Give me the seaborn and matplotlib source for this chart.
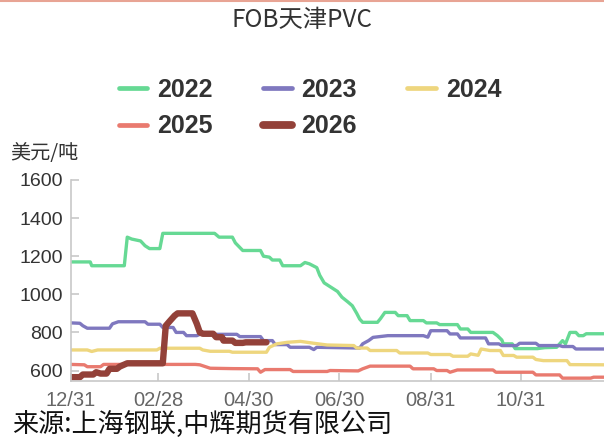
import pandas as pd
import seaborn as sns
import matplotlib.pyplot as plt
from matplotlib.lines import Line2D

# days since 12/31 of the previous year, and price (USD/t)
days_2022 = [0, 13, 14, 36, 38, 41, 47, 50, 53, 60, 62, 97, 100, 109, 111, 116, 128, 130, 134, 136,
             141, 143, 155, 158, 161, 166, 168, 171, 175, 180, 183, 187, 190, 193, 195, 197, 207,
             209, 212, 219, 221, 227, 229, 238, 240, 247, 249, 261, 263, 268, 270, 285, 288, 291,
             292, 298, 300, 315, 320, 328, 332, 334, 336, 337, 341, 343, 346, 348, 360]
fob_2022 = [1170, 1170, 1150, 1150, 1300, 1290, 1280, 1255, 1240, 1240, 1320, 1320, 1300, 1300, 1270,
            1230, 1230, 1200, 1195, 1180, 1180, 1150, 1150, 1167, 1160, 1140, 1100, 1060, 1040, 1015,
            985, 960, 940, 900, 870, 853, 853, 872, 905, 905, 888, 888, 862, 862, 850, 850, 841, 841,
            818, 818, 800, 800, 783, 760, 740, 740, 715, 715, 720, 722, 757, 740, 780, 800, 800, 783,
            783, 793, 793]

days_2023 = [0, 6, 8, 11, 26, 28, 32, 50, 52, 60, 62, 69, 71, 76, 78, 85, 87, 112, 114, 128, 130, 136,
             138, 146, 148, 161, 164, 166, 195, 197, 201, 204, 214, 238, 241, 243, 254, 256, 261, 263,
             280, 282, 289, 291, 301, 303, 314, 316, 330, 332, 339, 341, 360]
fob_2023 = [850, 848, 835, 822, 822, 845, 856, 856, 843, 843, 826, 826, 800, 800, 783, 783, 790, 790,
            778, 778, 757, 757, 736, 736, 722, 722, 710, 722, 718, 740, 757, 774, 783, 783, 775, 809,
            809, 792, 792, 771, 771, 740, 740, 731, 731, 743, 743, 731, 731, 726, 726, 713, 713]

days_2024 = [0, 11, 14, 18, 58, 60, 87, 89, 94, 107, 109, 132, 134, 139, 146, 155, 164, 173, 191, 193,
             200, 202, 220, 222, 241, 243, 256, 258, 268, 270, 275, 277, 283, 290, 292, 299, 301, 312,
             314, 319, 335, 337, 360]
fob_2024 = [708, 708, 700, 708, 708, 717, 717, 708, 701, 701, 696, 696, 722, 740, 748, 753, 743, 734,
            731, 718, 718, 705, 705, 692, 692, 684, 684, 675, 675, 687, 680, 713, 705, 705, 679, 679,
            670, 670, 658, 652, 652, 631, 630]

days_2025 = [0, 9, 11, 20, 22, 84, 87, 94, 109, 126, 128, 131, 148, 150, 173, 175, 194, 197, 202, 229,
             231, 245, 247, 254, 256, 261, 285, 287, 312, 314, 330, 332, 351, 353, 360]
fob_2025 = [632, 630, 620, 620, 632, 632, 630, 612, 610, 609, 591, 605, 605, 595, 595, 600, 598, 609,
            623, 623, 609, 609, 600, 600, 591, 603, 603, 591, 591, 577, 577, 560, 560, 565, 565]

days_2026 = [0, 6, 8, 15, 17, 20, 24, 26, 31, 33, 38, 62, 64, 67, 70, 72, 82, 85, 87, 89, 96, 98, 102,
             103, 109, 111, 116, 118, 132]
fob_2026 = [565, 565, 579, 579, 591, 584, 584, 609, 609, 621, 638, 638, 835, 862, 888, 900, 900, 845,
            800, 793, 793, 775, 775, 757, 757, 745, 745, 748, 748]

tick_days = [0, 59, 120, 181, 243, 304]
tick_labels = ['12/31', '02/28', '04/30', '06/30', '08/31', '10/31']
y_ticks = [600, 800, 1000, 1200, 1400, 1600]

series = {
    '2022': (days_2022, fob_2022, '#66d994', 2.4),
    '2023': (days_2023, fob_2023, '#7f78bf', 2.4),
    '2024': (days_2024, fob_2024, '#eed67e', 2.4),
    '2025': (days_2025, fob_2025, '#e97a6f', 2.4),
    '2026': (days_2026, fob_2026, '#934139', 4.6),
}

sns.set_theme(style='white')
plt.rcParams['font.family'] = ['Liberation Sans', 'Noto Sans CJK SC', 'DejaVu Sans']

fig = plt.figure(figsize=(6.04, 4.37), dpi=100)
ax = fig.add_axes([71 / 604, 1 - 381 / 437, 1 - 71 / 604, 201 / 437])

handles = {}
for year, (d, v, color, lw) in series.items():
    df = pd.DataFrame({'day': d, 'fob': v})
    sns.lineplot(data=df, x='day', y='fob', color=color, linewidth=lw, ax=ax,
                 estimator=None, sort=False, label=year)
    handles[year] = Line2D([], [], color=color, linewidth=lw + 1.0)

ax.set_xlim(0, 360)
ax.set_ylim(545, 1600)
ax.set_xticks(tick_days)
ax.set_xticklabels(tick_labels)
ax.set_yticks(y_ticks)
ax.set_xlabel('')
ax.set_ylabel('')

for side in ['top', 'right']:
    ax.spines[side].set_visible(False)
for side in ['left', 'bottom']:
    ax.spines[side].set_color('#c8c8c8')
    ax.spines[side].set_linewidth(1.2)

ax.tick_params(axis='both', direction='in', length=6, width=1.2, color='#c8c8c8')
ax.tick_params(axis='y', labelsize=14, labelcolor='#333333', pad=6, left=True)
ax.tick_params(axis='x', labelsize=14.5, labelcolor='#666666', pad=7, bottom=True)

# legend filled column by column, so order gives rows 2022/2023/2024 then 2025/2026
ax.get_legend().remove()
order = ['2022', '2025', '2023', '2026', '2024']
fig.legend([handles[k] for k in order], order, ncol=3, loc='center',
           bbox_to_anchor=(310 / 604, 1 - 108 / 437), frameon=False,
           prop={'weight': 'bold', 'size': 18}, handlelength=1.15,
           handletextpad=0.4, columnspacing=2.0, labelspacing=0.5,
           labelcolor='#333333')

fig.text(0.5, 1 - 20 / 437, 'FOB天津PVC', ha='center', va='center', fontsize=17.5,
         color='#333333', family=['Noto Sans CJK SC', 'DejaVu Sans'])
fig.text(10 / 604, 1 - 153 / 437, '美元/吨', ha='left', va='center', fontsize=14.5,
         color='#333333', family=['Noto Sans CJK SC', 'DejaVu Sans'])
fig.text(12 / 604, 1 - 424 / 437, '来源:上海钢联,中辉期货有限公司', ha='left', va='center',
         fontsize=18.8, color='#111111', family=['Noto Sans CJK SC', 'DejaVu Sans'])

fig.add_artist(Line2D([0, 1], [0.998, 0.998], transform=fig.transFigure,
                      color='#e8a494', linewidth=1.5))

fig.savefig('out.png', dpi=100, facecolor='white')
